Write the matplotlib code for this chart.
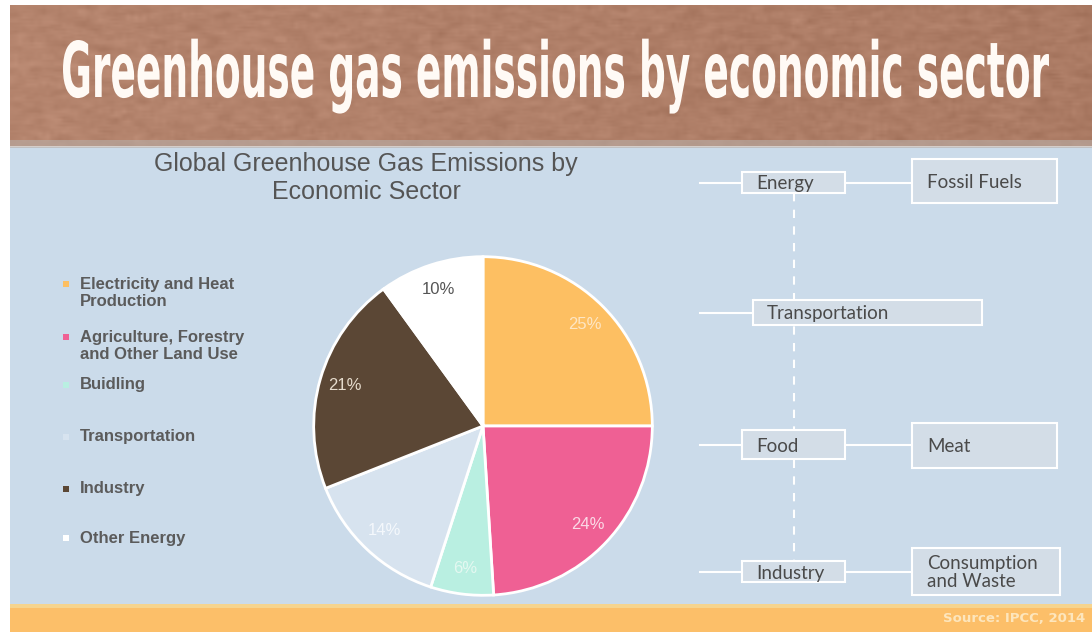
import numpy as np
import matplotlib
matplotlib.use("Agg")
import matplotlib.pyplot as plt
from matplotlib.patches import Rectangle, PathPatch
from matplotlib.textpath import TextPath
from matplotlib.font_manager import FontProperties
from matplotlib.transforms import Affine2D

# emission shares by sector (percent), clockwise from 12 o'clock
sectors = ["Electricity and Heat\nProduction", "Agriculture, Forestry\nand Other Land Use",
           "Buidling", "Transportation", "Industry", "Other Energy"]
shares = [25, 24, 6, 14, 21, 10]
colors = ["#fdbf62", "#ef6094", "#b9efe1", "#d7e3ef", "#5b4735", "#ffffff"]
pct_colors = ["#fde6c4", "#fbd9e6", "#e4f8f1", "#f4f8fc", "#e6dccd", "#555555"]

# right-hand flow diagram
chain_left = ["Energy", "Transportation", "Food", "Industry"]
chain_right = ["Fossil Fuels", None, "Meat", "Consumption\nand Waste"]

W, H = 1092, 632
fig = plt.figure(figsize=(W / 100, H / 100), dpi=100)
fig.patch.set_facecolor("white")
bg = fig.add_axes([0, 0, 1, 1])
bg.set_xlim(0, W)
bg.set_ylim(H, 0)
bg.axis("off")

# textured banner
rng = np.random.default_rng(7)
tex = rng.normal(0, 1, (72, 270))
k = np.ones(3) / 3
tex = np.apply_along_axis(lambda r: np.convolve(r, k, mode="same"), 1, tex)
tex = np.apply_along_axis(lambda c: np.convolve(c, k, mode="same"), 0, tex)
base = np.array([0.68, 0.49, 0.40])
shade = np.linspace(0.03, -0.01, 270)[None, :]
img = base[None, None, :] + (0.04 * tex + shade)[:, :, None]
bg.imshow(np.clip(img, 0, 1), extent=(10, W, 146, 5), aspect="auto",
          interpolation="bilinear", zorder=1)
bg.add_patch(Rectangle((10, 140), W - 10, 8, color="#b9aea8", alpha=0.6, lw=0, zorder=2))

# blue panel and orange strip
bg.add_patch(Rectangle((10, 147), W - 10, 458, color="#cbdbea", lw=0, zorder=1))
bg.add_patch(Rectangle((10, 604), W - 10, 28, color="#fcbf69", lw=0, zorder=1))
bg.add_patch(Rectangle((10, 604), W - 10, 4, color="#f6d48e", lw=0, zorder=2))

# condensed banner headline
headline = "Greenhouse gas emissions by economic sector"
hfont = FontProperties(family="DejaVu Sans", weight="bold")
tp = TextPath((0, 0), headline, size=100, prop=hfont)
ext = tp.get_extents()
cap = TextPath((0, 0), "H", size=100, prop=hfont).get_extents()
sx = 986 / ext.width
sy = 56 / cap.height
tr = Affine2D().translate(-ext.x0, 0).scale(sx, -sy).translate(63, 97)
bg.add_patch(PathPatch(tr.transform_path(tp), fc="#fffaf5", ec="none", zorder=3))

# chart title
bg.text(366, 178, "Global Greenhouse Gas Emissions by\nEconomic Sector", ha="center", va="center",
        fontsize=18, color="#555555", family="Liberation Sans", linespacing=1.25, zorder=3)

# legend
leg_y = [293, 346, 385, 437, 489, 538]
leg_mark_y = [284, 337, 385, 437, 489, 538]
for lab, c, ty, my in zip(sectors, colors, leg_y, leg_mark_y):
    bg.scatter(66, my, s=14, marker="s", color=c, edgecolors="none", zorder=3)
    bg.text(80, ty, lab, ha="left", va="center", fontsize=12, fontweight="bold",
            color="#5b5b5b", family="Liberation Sans", linespacing=1.1, zorder=3)

# pie
cx, cy, r = 483, 426, 171
pax = fig.add_axes([(cx - r) / W, 1 - (cy + r) / H, 2 * r / W, 2 * r / H])
wedges, _, autotexts = pax.pie(shares, colors=colors, startangle=90, counterclock=False,
                               radius=1, autopct="%d%%", pctdistance=0.85,
                               wedgeprops=dict(edgecolor="white", linewidth=2),
                               textprops=dict(fontsize=12, family="Liberation Sans"))
for t, c in zip(autotexts, pct_colors):
    t.set_color(c)
pax.set_xlim(-1.01, 1.01)
pax.set_ylim(-1.01, 1.01)
pax.axis("off")

# flow diagram
row_y = [183, 313, 445, 572]
left_box = [(742, 172, 103, 21), (753, 300, 229, 25), (742, 430, 103, 29), (742, 561, 103, 21)]
right_box = [(912, 159, 145, 44), None, (912, 423, 145, 45), (912, 548, 148, 47)]
bg.plot([794, 794], [193, 561], color="white", lw=1.5, ls=(0, (4, 4)), zorder=2)
for name, rname, y, lb, rb in zip(chain_left, chain_right, row_y, left_box, right_box):
    bg.plot([700, lb[0]], [y, y], color="white", lw=1.5, zorder=2)
    bg.add_patch(Rectangle(lb[:2], lb[2], lb[3], fc="#d3dde7", ec="white", lw=1.5, zorder=3))
    bg.text(lb[0] + 14, y + 1, name, ha="left", va="center", fontsize=13.5,
            color="#4a4a4a", family="Lato", zorder=4)
    if rname is not None:
        bg.plot([lb[0] + lb[2], rb[0]], [y, y], color="white", lw=1.5, zorder=2)
        bg.add_patch(Rectangle(rb[:2], rb[2], rb[3], fc="#d3dde7", ec="white", lw=1.5, zorder=3))
        bg.text(rb[0] + 15, rb[1] + rb[3] / 2 + 1, rname, ha="left", va="center", fontsize=13.5,
                color="#4a4a4a", family="Lato", linespacing=1.05, zorder=4)

bg.text(1085, 619, "Source: IPCC, 2014", ha="right", va="center", fontsize=9.5,
        fontweight="bold", color="#fde6bd", family="Liberation Sans Narrow", zorder=3)

fig.savefig("out.png", dpi=100, facecolor=fig.get_facecolor())
